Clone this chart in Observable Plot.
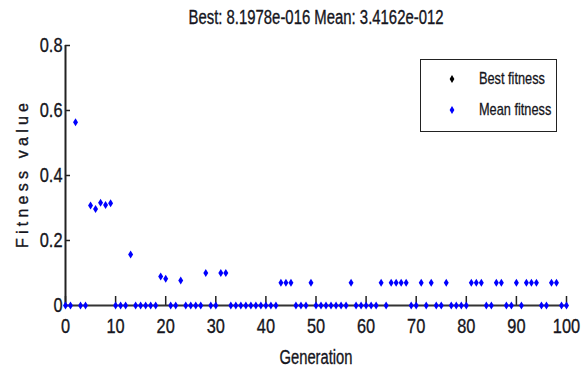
<!DOCTYPE html>
<html>
<head>
<meta charset="utf-8">
<script src="https://cdn.jsdelivr.net/npm/d3@7"></script>
<script src="https://cdn.jsdelivr.net/npm/@observablehq/plot@0.6"></script>
<style>
  html, body { margin: 0; padding: 0; background: #fff; }
  #wrap { position: relative; width: 582px; height: 373px; }
  #wrap svg text { stroke: #151520; stroke-width: 0.35px; fill: #151520; }
  .legend { position: absolute; left: 420px; top: 59px; width: 137px; height: 73px;
    border: 1.5px solid #222; background: #fff; box-sizing: border-box;
    font-family: "Liberation Sans", Arial, sans-serif;
    font-size: 17px; color: #151520; -webkit-text-stroke: 0.3px #151520; }
  .legend .row { position: absolute; left: 0; height: 20px; line-height: 20px; width: 100%; }
  .legend svg { position: absolute; left: 27px; top: 5px; }
  .legend span { position: absolute; left: 58px; white-space: nowrap; transform: scaleX(0.75); transform-origin: 0 50%; }
</style>
</head>
<body>
<div id="wrap"></div>
<script>
const titleText = "Best: 8.1978e-016 Mean: 3.4162e-012";
const xLabel = "Generation";
const yLabel = "Fitness value";
const seriesNames = ["Best fitness", "Mean fitness"];
const seriesColors = ["#000000", "#0000ff"];
const xTicks = [0, 10, 20, 30, 40, 50, 60, 70, 80, 90, 100];
const yTicks = [0, 0.2, 0.4, 0.6, 0.8];
const yTickLabels = ["0", "0.2", "0.4", "0.6", "0.8"];

// mean fitness per generation 0..100
const meanFitness = [
  0, 0, 0.564, 0, 0, 0.308, 0.297, 0.316, 0.309, 0.315,
  0, 0, 0, 0.157, 0, 0, 0, 0, 0, 0.089,
  0.082, 0, 0, 0.077, 0, 0, 0, 0, 0.1, 0,
  0, 0.1, 0.1, 0, 0, 0, 0, 0, 0, 0,
  0, 0, 0, 0.07, 0.07, 0.07, 0, 0, 0, 0.07,
  0, 0, 0, 0, 0, 0, 0, 0.07, 0, 0,
  0, 0, 0, 0.07, 0, 0.07, 0.07, 0.07, 0.07, 0,
  0, 0.07, 0, 0.07, 0, 0, 0.07, 0, 0, 0,
  0, 0.07, 0.07, 0.07, 0, 0, 0.07, 0.07, 0, 0,
  0.07, 0, 0.07, 0.07, 0.07, 0, 0, 0.07, 0.07, 0,
  0
];
const generations = d3.range(meanFitness.length);

const tallDiamond = {
  draw(ctx, size) {
    const r = Math.sqrt(size / Math.PI);
    ctx.moveTo(0, -r);
    ctx.lineTo(r * 0.62, 0);
    ctx.lineTo(0, r);
    ctx.lineTo(-r * 0.62, 0);
    ctx.closePath();
  }
};

const font = '"Liberation Sans", Arial, sans-serif';

const chart = Plot.plot({
  width: 582,
  height: 373,
  marginLeft: 65,
  marginRight: 16,
  marginTop: 45,
  marginBottom: 68,
  style: { fontFamily: font, fontSize: "21px", color: "#151520", background: "#fff", overflow: "visible" },
  x: { domain: [0, 100] },
  y: { domain: [0, 0.8] },
  marks: [
    Plot.axisY(yTicks, { tickSize: 0, tickPadding: 3, tickFormat: (d, i) => yTickLabels[i], fontSize: 21, label: null }),
    Plot.axisY(yTicks, { tickSize: -5, text: null, stroke: "#222", strokeWidth: 1.5, label: null }),
    Plot.axisX(xTicks, { tickSize: 0, tickPadding: 13, tickFormat: d => String(d), fontSize: 21, label: null }),
    Plot.axisX(xTicks, { tickSize: -9, text: null, stroke: "#222", strokeWidth: 1.5, label: null }),
    Plot.ruleY([0], { stroke: "#333", strokeWidth: 2 }),
    Plot.ruleX([0], { stroke: "#222", strokeWidth: 2 }),
    Plot.dot(generations, { x: d => d, y: d => meanFitness[d], symbol: tallDiamond, r: 4, fill: seriesColors[1], stroke: null }),
    Plot.text([titleText], { frameAnchor: "top", lineAnchor: "middle", dy: -28, fontSize: 20 }),
    Plot.text([xLabel], { frameAnchor: "bottom", lineAnchor: "middle", dy: 52, fontSize: 20 }),
    Plot.text([yLabel], { frameAnchor: "left", textAnchor: "middle", lineAnchor: "middle", dx: -43, rotate: -90, fontSize: 16 })
  ]
});

const wrap = document.getElementById("wrap");
wrap.appendChild(chart);

// condense text horizontally like the original narrow rendering
const targets = { [titleText]: [255, "spacingAndGlyphs"], [xLabel]: [73, "spacingAndGlyphs"], [yLabel]: [145, "spacing"] };
chart.querySelectorAll("text").forEach(t => {
  const s = t.textContent;
  const len = t.getComputedTextLength();
  if (targets[s]) {
    t.setAttribute("textLength", targets[s][0]);
    t.setAttribute("lengthAdjust", targets[s][1]);
  } else if (len > 0) {
    t.setAttribute("textLength", (len * 0.78).toFixed(1));
    t.setAttribute("lengthAdjust", "spacingAndGlyphs");
  }
});

const legend = document.createElement("div");
legend.className = "legend";
seriesNames.forEach((name, i) => {
  const row = document.createElement("div");
  row.className = "row";
  row.style.top = (9 + i * 31) + "px";
  row.innerHTML = `<svg width="8" height="10" viewBox="-4 -5 8 10"><path d="M0,-4L2.4,0L0,4L-2.4,0Z" fill="${seriesColors[i]}"/></svg><span>${name}</span>`;
  legend.appendChild(row);
});
wrap.appendChild(legend);
</script>
</body>
</html>
